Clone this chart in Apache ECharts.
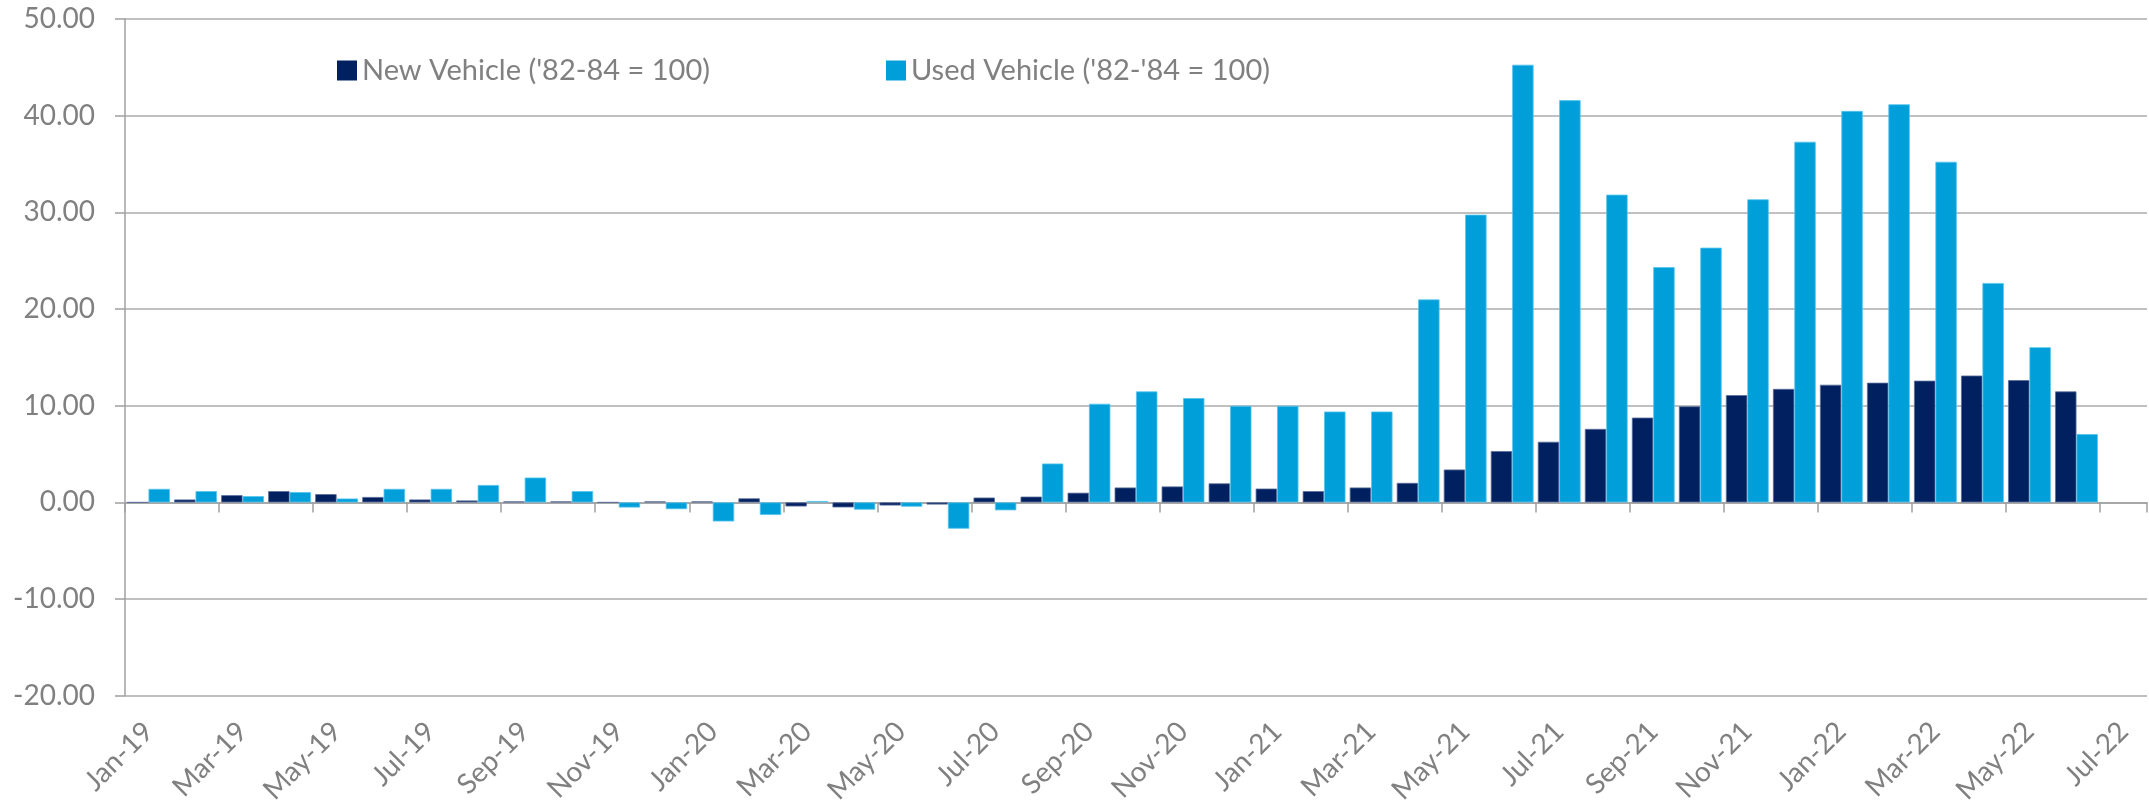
<!DOCTYPE html>
<html>
<head>
<meta charset="utf-8">
<script src="https://cdn.jsdelivr.net/npm/echarts@6/dist/echarts.min.js"></script>
<style>
html,body{margin:0;padding:0;background:#fff;}
#chart{width:2149px;height:807px;}
</style>
</head>
<body>
<div id="chart"></div>
<script>
const months = ["Jan-19","Feb-19","Mar-19","Apr-19","May-19","Jun-19","Jul-19","Aug-19","Sep-19","Oct-19","Nov-19","Dec-19",
"Jan-20","Feb-20","Mar-20","Apr-20","May-20","Jun-20","Jul-20","Aug-20","Sep-20","Oct-20","Nov-20","Dec-20",
"Jan-21","Feb-21","Mar-21","Apr-21","May-21","Jun-21","Jul-21","Aug-21","Sep-21","Oct-21","Nov-21","Dec-21",
"Jan-22","Feb-22","Mar-22","Apr-22","May-22","Jun-22","Jul-22"];

const newVehicle = [0, 0.3, 0.75, 1.17, 0.86, 0.56, 0.3, 0.2, 0.1, 0.1, 0, 0.1,
0.1, 0.42, -0.42, -0.52, -0.32, -0.22, 0.5, 0.6, 1.0, 1.54, 1.65, 1.97,
1.43, 1.17, 1.54, 2.02, 3.4, 5.31, 6.27, 7.6, 8.77, 9.94, 11.1, 11.74,
12.17, 12.38, 12.59, 13.12, 12.65, 11.48, null];

const usedVehicle = [1.4, 1.17, 0.65, 1.07, 0.4, 1.4, 1.4, 1.8, 2.57, 1.17, -0.53, -0.7,
-1.97, -1.3, 0.14, -0.75, -0.44, -2.72, -0.82, 4.02, 10.2, 11.48, 10.79, 9.99,
9.99, 9.4, 9.4, 20.99, 29.76, 45.27, 41.6, 31.83, 24.34, 26.35, 31.35, 37.3,
40.49, 41.18, 35.23, 22.69, 16.05, 7.07, null];

const seriesNames = ["New Vehicle ('82-84 = 100)", "Used Vehicle ('82-'84 = 100)"];

const FONT = 'Lato';
const GREY = '#808080';

const chart = echarts.init(document.getElementById('chart'), null, {renderer:'canvas'});
chart.setOption({
  animation: false,
  backgroundColor: '#ffffff',
  textStyle: {fontFamily: FONT},
  legend: {
    left: 332, top: 51,
    itemWidth: 20, itemHeight: 20, itemGap: 176,
    icon: 'rect',
    textStyle: {fontFamily: FONT, fontSize: 29, color: GREY},
    data: [
      {name: seriesNames[0], itemStyle: {borderWidth: 0}},
      {name: seriesNames[1], itemStyle: {borderWidth: 0}}
    ]
  },
  grid: {left: 125, right: 2, top: 19, bottom: 110, containLabel: false},
  xAxis: [{
    type: 'category',
    data: months,
    position: 'bottom',
    axisLine: {show: true, onZero: true, lineStyle: {color: '#A0A0A0', width: 1.5}},
    axisTick: {show: true, interval: 1, length: 10, lineStyle: {color: '#A0A0A0', width: 1.5}},
    axisLabel: {show: false},
    splitLine: {show: false}
  }, {
    type: 'category',
    data: months,
    position: 'bottom',
    axisLine: {show: false, onZero: false},
    axisTick: {show: false},
    axisLabel: {show: true, interval: 1, rotate: 45, margin: 31, color: GREY, fontFamily: FONT, fontSize: 28},
    splitLine: {show: false}
  }],
  yAxis: {
    type: 'value',
    min: -20, max: 50, interval: 10,
    axisLine: {show: true, lineStyle: {color: '#A0A0A0', width: 1.5}},
    axisTick: {show: true, length: 10, lineStyle: {color: '#A0A0A0', width: 1.5}},
    axisLabel: {margin: 30, color: GREY, fontFamily: FONT, fontSize: 28, formatter: v => v.toFixed(2)},
    splitLine: {show: true, lineStyle: {color: '#ABABAB', width: 1.5}}
  },
  series: [{
    name: seriesNames[0],
    type: 'bar',
    xAxisIndex: 0,
    data: newVehicle,
    barGap: '0%',
    barCategoryGap: '9%',
    itemStyle: {color: '#002060', borderColor: '#5A6F9C', borderWidth: 0.8}
  }, {
    name: seriesNames[1],
    type: 'bar',
    xAxisIndex: 0,
    data: usedVehicle,
    barGap: '0%',
    barCategoryGap: '9%',
    itemStyle: {color: '#009FDA', borderColor: '#55C4EE', borderWidth: 0.8}
  }]
});
</script>
</body>
</html>
